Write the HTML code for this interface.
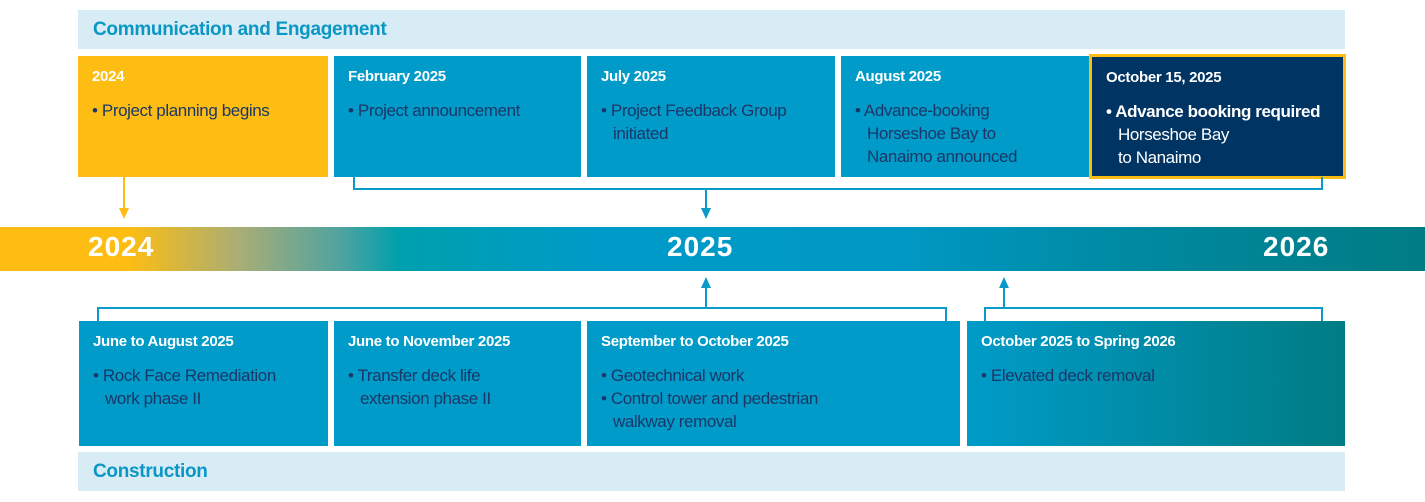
<!DOCTYPE html>
<html><head><style>
body{margin:0;width:1425px;height:502px;background:#fff;position:relative;overflow:hidden;font-family:"Liberation Sans",sans-serif}
.a{position:absolute;box-sizing:border-box}
.hdr{background:#d7ecf5;color:#0a97c6;font-weight:bold;font-size:19px;padding:9px 0 0 15px;letter-spacing:-0.3px}
.bx{background:#009bc8;padding:12px 12px 0 14px}
.bx h{display:block;color:#fff;font-weight:bold;font-size:15px;letter-spacing:-0.3px;margin-bottom:14px}
.bx p{margin:0;color:#1b3768;font-size:17px;line-height:23px;padding-left:12px;text-indent:-12px;letter-spacing:-0.4px}
.yr{color:#fff;font-weight:bold;font-size:28px;top:231px;letter-spacing:1px}
</style></head><body>
<div class="a hdr" style="left:78px;top:10px;width:1267px;height:39px">Communication and Engagement</div>
<div class="a bx" style="left:78px;top:56px;width:250px;height:121px;background:#fdbd12"><h>2024</h><p>• Project planning begins</p></div>
<div class="a bx" style="left:334px;top:56px;width:247px;height:121px"><h>February 2025</h><p>• Project announcement</p></div>
<div class="a bx" style="left:587px;top:56px;width:248px;height:121px"><h>July 2025</h><p>• Project Feedback Group<br>initiated</p></div>
<div class="a bx" style="left:841px;top:56px;width:248px;height:121px"><h>August 2025</h><p>• Advance-booking<br>Horseshoe Bay to<br>Nanaimo announced</p></div>
<div class="a bx" style="left:1089px;top:54px;width:257px;height:125px;background:#003463;border:3px solid #fdbd12;padding:12px 12px 0 14px"><h>October 15, 2025</h><p style="color:#fff"><b>• Advance booking required</b><br>Horseshoe Bay<br>to Nanaimo</p></div>
<div class="a" style="left:0;top:227px;width:1425px;height:44px;background:linear-gradient(90deg,#fdbd12 0%,#fdbd12 9%,#a7ad78 17%,#4ea3a0 24%,#00a0ad 28%,#009ac8 42%,#0099c6 62%,#0089a0 80%,#007c84 100%)"></div>
<div class="a yr" style="left:88px">2024</div>
<div class="a yr" style="left:667px">2025</div>
<div class="a yr" style="left:1263px">2026</div>
<svg class="a" style="left:0;top:0" width="1425" height="502">
<g fill="none" stroke-width="2">
<path d="M124 177V214" stroke="#fdbd12"/>
<path d="M354 177V189H1322V177M706 189V214" stroke="#0a9ac8"/>
<path d="M98 321V308H946V321M706 308V283M985 321V308H1322V321M1004 308V283" stroke="#0a9ac8"/>
</g>
<path d="M119 208L124 219L129 208Z" fill="#fdbd12"/>
<path d="M701 208L706 219L711 208Z" fill="#0a9ac8"/>
<path d="M701 288L706 277L711 288Z" fill="#0a9ac8"/>
<path d="M999 288L1004 277L1009 288Z" fill="#0a9ac8"/>
</svg>
<div class="a bx" style="left:79px;top:321px;width:249px;height:125px"><h>June to August 2025</h><p>• Rock Face Remediation<br>work phase II</p></div>
<div class="a bx" style="left:334px;top:321px;width:247px;height:125px"><h>June to November 2025</h><p>• Transfer deck life<br>extension phase II</p></div>
<div class="a bx" style="left:587px;top:321px;width:373px;height:125px"><h>September to October 2025</h><p>• Geotechnical work</p><p>• Control tower and pedestrian<br>walkway removal</p></div>
<div class="a bx" style="left:967px;top:321px;width:378px;height:125px;background:linear-gradient(90deg,#009bc8,#007c84)"><h>October 2025 to Spring 2026</h><p>• Elevated deck removal</p></div>
<div class="a hdr" style="left:78px;top:452px;width:1267px;height:39px">Construction</div>
</body></html>
